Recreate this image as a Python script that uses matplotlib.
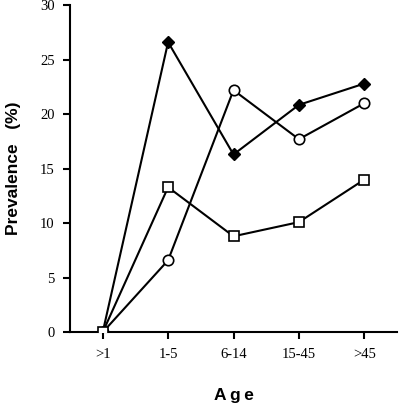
import matplotlib.pyplot as plt

ages = [">1", "1-5", "6-14", "15-45", ">45"]
diamonds = [0, 26.6, 16.3, 20.85, 22.8]
circles = [0, 6.6, 22.2, 17.7, 21.0]
squares = [0, 13.3, 8.8, 10.1, 14.0]

plt.rcParams["font.family"] = "Liberation Serif"

fig = plt.figure(figsize=(4, 4.04), dpi=100)
ax = fig.add_axes([0.175, 0.1775, 0.8175, 0.81])

x = range(len(ages))
ax.plot(x, diamonds, color="black", lw=1.5, marker="D", ms=6,
        mfc="black", mec="black", zorder=3)
ax.plot(x, circles, color="black", lw=1.5, marker="o", ms=7.5,
        mfc="white", mec="black", mew=1.2, zorder=3)
ax.plot(x, squares, color="black", lw=1.5, marker="s", ms=7.5,
        mfc="white", mec="black", mew=1.2, zorder=3)

ax.set_xlim(-0.5, 4.5)
ax.set_ylim(0, 30)
ax.set_yticks(range(0, 31, 5))
ax.set_xticks(list(x))
ax.set_xticklabels(ages)

for s in ["top", "right"]:
    ax.spines[s].set_visible(False)
for s in ["left", "bottom"]:
    ax.spines[s].set_linewidth(1.5)
ax.tick_params(width=1.5, length=5, labelsize=10.5, pad=6)

ax.set_xlabel("A\u2009g\u2009e", family=["Liberation Sans", "DejaVu Sans"],
              fontweight="bold", fontsize=12.5, labelpad=20)
ax.set_ylabel("Prevalence   (%)", family="Liberation Sans",
              fontweight="bold", fontsize=12.5, labelpad=14)

fig.savefig("out.png", dpi=100)
